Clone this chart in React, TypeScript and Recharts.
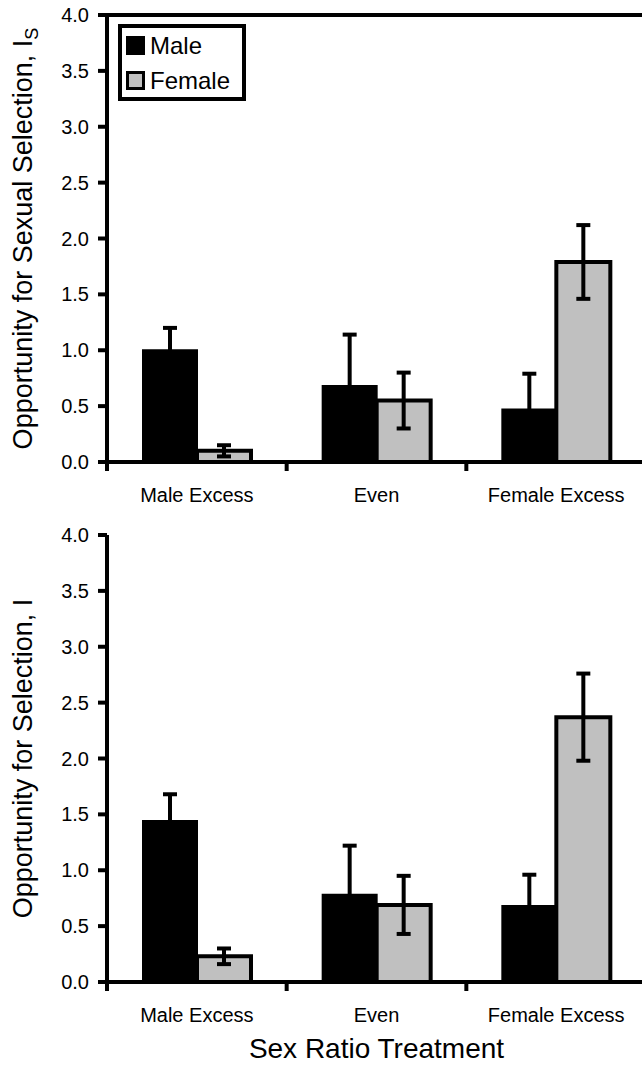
import React from 'react';
import {
  Bar,
  BarChart,
  ErrorBar,
  Label,
  Legend,
  ReferenceLine,
  XAxis,
  YAxis
} from 'recharts';

const categories = ['Male Excess', 'Even', 'Female Excess'];

// top panel: opportunity for sexual selection, Is
const sexualMale = [1.0, 0.68, 0.47];
const sexualMaleErr = [0.2, 0.46, 0.32];
const sexualFemale = [0.1, 0.55, 1.79];
const sexualFemaleErr = [0.05, 0.25, 0.33];

// bottom panel: opportunity for selection, I
const totalMale = [1.44, 0.78, 0.68];
const totalMaleErr = [0.24, 0.44, 0.28];
const totalFemale = [0.23, 0.69, 2.37];
const totalFemaleErr = [0.07, 0.26, 0.39];

const yTicks = [0, 0.5, 1, 1.5, 2, 2.5, 3, 3.5, 4];

const FONT = '"Liberation Sans", Arial, Helvetica, sans-serif';
const GREY = '#c0c0c0';
const LINE = 4;

const buildRows = (male: number[], maleErr: number[], female: number[], femaleErr: number[]) =>
  categories.map((name, i) => ({
    name,
    male: male[i],
    maleErr: maleErr[i],
    female: female[i],
    femaleErr: femaleErr[i]
  }));

const sexualData = buildRows(sexualMale, sexualMaleErr, sexualFemale, sexualFemaleErr);
const totalData = buildRows(totalMale, totalMaleErr, totalFemale, totalFemaleErr);

// category label plus a tick mark on the boundaries between categories
function CategoryTick(props: any) {
  const { x, y, payload, index } = props;
  const half = payload && payload.offset ? payload.offset : 89.75;
  return (
    <g>
      <line x1={x - half} y1={y - 9} x2={x - half} y2={y} stroke="#000" strokeWidth={LINE} />
      {index === categories.length - 1 && (
        <line x1={x + half} y1={y - 9} x2={x + half} y2={y} stroke="#000" strokeWidth={LINE} />
      )}
      <text x={x} y={y + 31} textAnchor="middle" fontSize={20} fill="#000" fontFamily={FONT}>
        {payload.value}
      </text>
    </g>
  );
}

function YTitle({ viewBox, text, sub }: any) {
  const cx = 32;
  const cy = viewBox.y + viewBox.height / 2;
  return (
    <text
      x={cx}
      y={cy}
      transform={`rotate(-90, ${cx}, ${cy})`}
      textAnchor="middle"
      fontSize={27}
      fill="#000"
      fontFamily={FONT}
    >
      {text}
      {sub && (
        <tspan dy={6} fontSize={18}>
          {sub}
        </tspan>
      )}
    </text>
  );
}

function LegendBox() {
  const row = { display: 'flex', alignItems: 'center', height: 35 };
  const box = { width: 19, height: 19, boxSizing: 'border-box' as const, marginRight: 5 };
  return (
    <div
      style={{
        boxSizing: 'border-box',
        width: 128,
        height: 77,
        border: '4px solid #000',
        background: '#fff',
        padding: '0 0 0 4px',
        fontFamily: FONT,
        fontSize: 24,
        color: '#000'
      }}
    >
      <div style={row}>
        <div style={{ ...box, background: '#000' }} />
        <span>Male</span>
      </div>
      <div style={row}>
        <div style={{ ...box, background: GREY, border: '3px solid #000' }} />
        <span>Female</span>
      </div>
    </div>
  );
}

function Panel({ data, height, xHeight, yTitle, ySub, showLegend, showTopLine, xTitle }: any) {
  return (
    <BarChart
      width={646}
      height={height}
      data={data}
      margin={{ top: 15, right: 0, left: 0, bottom: 0 }}
      barGap={0}
      barSize={54}
      style={{ fontFamily: FONT }}
    >
      <XAxis
        dataKey="name"
        height={xHeight}
        axisLine={{ stroke: '#000', strokeWidth: LINE }}
        tickLine={false}
        tickSize={9}
        tickMargin={0}
        interval={0}
        tick={<CategoryTick />}
      >
        {xTitle && (
          <Label
            content={(p: any) => (
              <text
                x={p.viewBox.x + p.viewBox.width / 2}
                y={p.viewBox.y + 76}
                textAnchor="middle"
                fontSize={28}
                fill="#000"
                fontFamily={FONT}
              >
                {xTitle}
              </text>
            )}
          />
        )}
      </XAxis>
      <YAxis
        width={107}
        domain={[0, 4]}
        ticks={yTicks}
        interval={0}
        tickFormatter={(v: number) => v.toFixed(1)}
        axisLine={{ stroke: '#000', strokeWidth: LINE }}
        tickLine={{ stroke: '#000', strokeWidth: LINE }}
        tickSize={9}
        tickMargin={9}
        tick={{ fill: '#000', fontSize: 20, fontFamily: FONT }}
      >
        <Label content={(p: any) => <YTitle viewBox={p.viewBox} text={yTitle} sub={ySub} />} />
      </YAxis>
      {showTopLine && <ReferenceLine y={4} stroke="#000" strokeWidth={LINE} />}
      {showLegend && (
        <Legend
          layout="horizontal"
          verticalAlign="middle"
          align="center"
          wrapperStyle={{ left: 118, top: 24, width: 128, height: 77 }}
          content={() => <LegendBox />}
        />
      )}
      <Bar dataKey="male" name="Male" fill="#000" stroke="#000" strokeWidth={2} isAnimationActive={false}>
        <ErrorBar dataKey="maleErr" width={7} stroke="#000" strokeWidth={LINE} direction="y" />
      </Bar>
      <Bar dataKey="female" name="Female" fill={GREY} stroke="#000" strokeWidth={LINE} isAnimationActive={false}>
        <ErrorBar dataKey="femaleErr" width={7} stroke="#000" strokeWidth={LINE} direction="y" />
      </Bar>
    </BarChart>
  );
}

export default function App() {
  return (
    <div
      style={{
        position: 'absolute',
        left: 0,
        top: 0,
        width: 642,
        height: 1066,
        overflow: 'hidden',
        background: '#fff'
      }}
    >
      <div style={{ position: 'absolute', left: 0, top: 0 }}>
        <Panel
          data={sexualData}
          height={510}
          xHeight={48}
          yTitle="Opportunity for Sexual Selection, I"
          ySub="S"
          showLegend
          showTopLine
        />
      </div>
      <div style={{ position: 'absolute', left: 0, top: 520 }}>
        <Panel
          data={totalData}
          height={546}
          xHeight={84}
          yTitle="Opportunity for Selection, I"
          xTitle="Sex Ratio Treatment"
        />
      </div>
    </div>
  );
}
